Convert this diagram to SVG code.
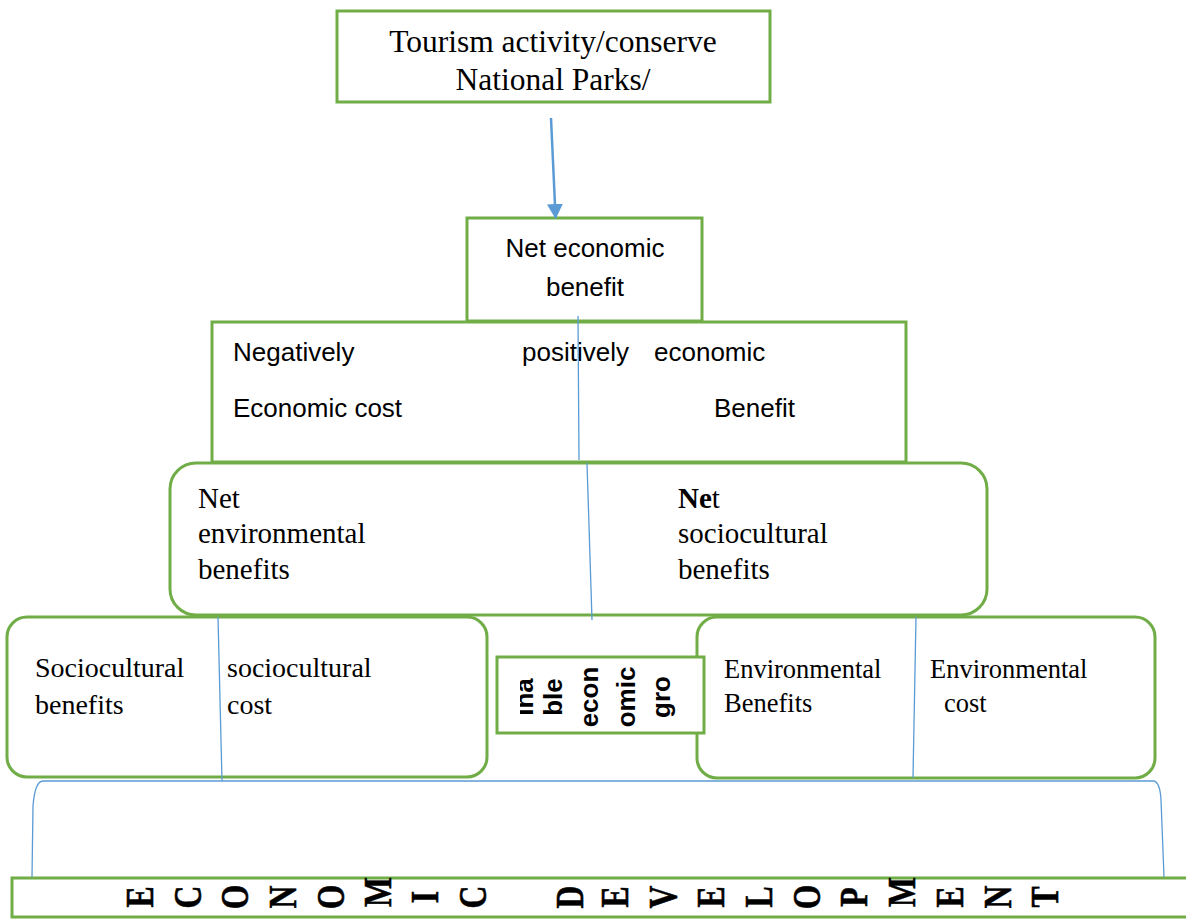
<svg xmlns="http://www.w3.org/2000/svg" width="1186" height="919" viewBox="0 0 1186 919">
<style>
.box{fill:#fff;stroke:#70AD47;stroke-width:3}
.blue{stroke:#5B9BD5;stroke-width:1.3;fill:none}
.serif{font-family:"Liberation Serif","Times New Roman",serif;fill:#000}
.sans{font-family:"Liberation Sans",Arial,sans-serif;fill:#000}
.vert{font-family:"Liberation Sans",Arial,sans-serif;font-weight:bold;font-size:26px;text-anchor:middle}
.big{font-family:"Liberation Serif","Times New Roman",serif;font-weight:bold;font-size:36px;text-anchor:middle;fill:#000;stroke:#000;stroke-width:0.5}
</style>
<defs>
<marker id="ah" markerWidth="16" markerHeight="16" refX="14" refY="8" orient="auto" markerUnits="userSpaceOnUse" viewBox="0 0 16 16">
<path d="M0,0 L15,8 L0,16 z" fill="#5B9BD5"/>
</marker>
<clipPath id="clipMid"><rect x="520" y="657" width="184" height="76"/></clipPath>
</defs>

<g id="node-top">
<rect class="box" x="337" y="11" width="433" height="91"/>
<text class="serif" font-size="31.5" x="553" y="52" text-anchor="middle">Tourism activity/conserve</text>
<text class="serif" font-size="31.5" x="553" y="90" text-anchor="middle">National Parks/</text>
</g>

<g id="node-costbenefit">
<rect class="box" x="212" y="322" width="694" height="140"/>
<text class="sans" font-size="26" x="233" y="361">Negatively</text>
<text class="sans" font-size="26" x="522" y="361">positively</text>
<text class="sans" font-size="26" x="654" y="361">economic</text>
<text class="sans" font-size="26" x="233" y="417">Economic cost</text>
<text class="sans" font-size="26" x="714" y="417">Benefit</text>
</g>

<g id="node-neteconomic">
<rect class="box" x="467" y="218" width="235" height="103"/>
<text class="sans" font-size="26" x="585" y="257" text-anchor="middle">Net economic</text>
<text class="sans" font-size="26" x="585" y="296" text-anchor="middle">benefit</text>
</g>

<g id="node-netenv">
<rect class="box" x="170" y="463" width="817" height="152" rx="26" ry="26"/>
<text class="serif" font-size="29" x="198" y="508">Net</text>
<text class="serif" font-size="29" x="198" y="543">environmental</text>
<text class="serif" font-size="29" x="198" y="579">benefits</text>
<text class="serif" font-size="29" x="678" y="508"><tspan font-weight="bold">Ne</tspan>t</text>
<text class="serif" font-size="29" x="678" y="543">sociocultural</text>
<text class="serif" font-size="29" x="678" y="579">benefits</text>
</g>

<g id="node-socio">
<rect class="box" x="7" y="617" width="480" height="160" rx="20" ry="20"/>
<text class="serif" font-size="28" x="35" y="677">Sociocultural</text>
<text class="serif" font-size="28" x="35" y="714">benefits</text>
<text class="serif" font-size="28" x="227" y="677">sociocultural</text>
<text class="serif" font-size="28" x="227" y="714">cost</text>
</g>

<g id="node-env">
<rect class="box" x="697" y="617" width="458" height="161" rx="20" ry="20"/>
<text class="serif" font-size="26.5" x="724" y="678">Environmental</text>
<text class="serif" font-size="26.5" x="724" y="712">Benefits</text>
<text class="serif" font-size="26.5" x="930" y="678">Environmental</text>
<text class="serif" font-size="26.5" x="944" y="712">cost</text>
</g>

<g id="node-growth">
<rect class="box" x="497" y="657" width="207" height="76"/>
<g clip-path="url(#clipMid)">
<text class="vert" transform="translate(533,697) rotate(-90)">ina</text>
<text class="vert" transform="translate(562,697) rotate(-90)">ble</text>
<text class="vert" transform="translate(598,697) rotate(-90)">econ</text>
<text class="vert" transform="translate(635,697) rotate(-90)">omic</text>
<text class="vert" transform="translate(670,697) rotate(-90)">gro</text>
</g>
</g>

<g id="node-econdev">
<rect class="box" x="12" y="878" width="1180" height="39"/>
<g class="big">
<text transform="translate(153,897) rotate(-90) scale(0.88,1.12)">E</text>
<text transform="translate(201,897) rotate(-90) scale(0.88,1.12)">C</text>
<text transform="translate(248,897) rotate(-90) scale(0.88,1.12)">O</text>
<text transform="translate(296,897) rotate(-90) scale(0.88,1.12)">N</text>
<text transform="translate(344,897) rotate(-90) scale(0.88,1.12)">O</text>
<text transform="translate(391,892) rotate(-90) scale(0.88,1.12)">M</text>
<text transform="translate(438,897) rotate(-90) scale(0.88,1.12)">I</text>
<text transform="translate(486,897) rotate(-90) scale(0.88,1.12)">C</text>
<text transform="translate(583,897) rotate(-90) scale(0.88,1.12)">D</text>
<text transform="translate(628,897) rotate(-90) scale(0.88,1.12)">E</text>
<text transform="translate(676,897) rotate(-90) scale(0.88,1.12)">V</text>
<text transform="translate(724,897) rotate(-90) scale(0.88,1.12)">E</text>
<text transform="translate(772,897) rotate(-90) scale(0.88,1.12)">L</text>
<text transform="translate(820,897) rotate(-90) scale(0.88,1.12)">O</text>
<text transform="translate(867,897) rotate(-90) scale(0.88,1.12)">P</text>
<text transform="translate(915,892) rotate(-90) scale(0.88,1.12)">M</text>
<text transform="translate(963,897) rotate(-90) scale(0.88,1.12)">E</text>
<text transform="translate(1011,897) rotate(-90) scale(0.88,1.12)">N</text>
<text transform="translate(1058,897) rotate(-90) scale(0.88,1.12)">T</text>
</g>
</g>

<g id="connectors">
<line x1="551" y1="118" x2="555.6" y2="218" stroke="#5B9BD5" stroke-width="2.5" marker-end="url(#ah)"/>
<line class="blue" x1="578" y1="316" x2="579" y2="460"/>
<line class="blue" x1="587" y1="463" x2="592" y2="620"/>
<line class="blue" x1="218" y1="617" x2="222" y2="781"/>
<line class="blue" x1="916" y1="617" x2="913" y2="778"/>
<path class="blue" d="M32,877 L33,806 Q35,781 43,781 L1153,781 Q1160,781 1161,800 L1164,877"/>
</g>
</svg>
